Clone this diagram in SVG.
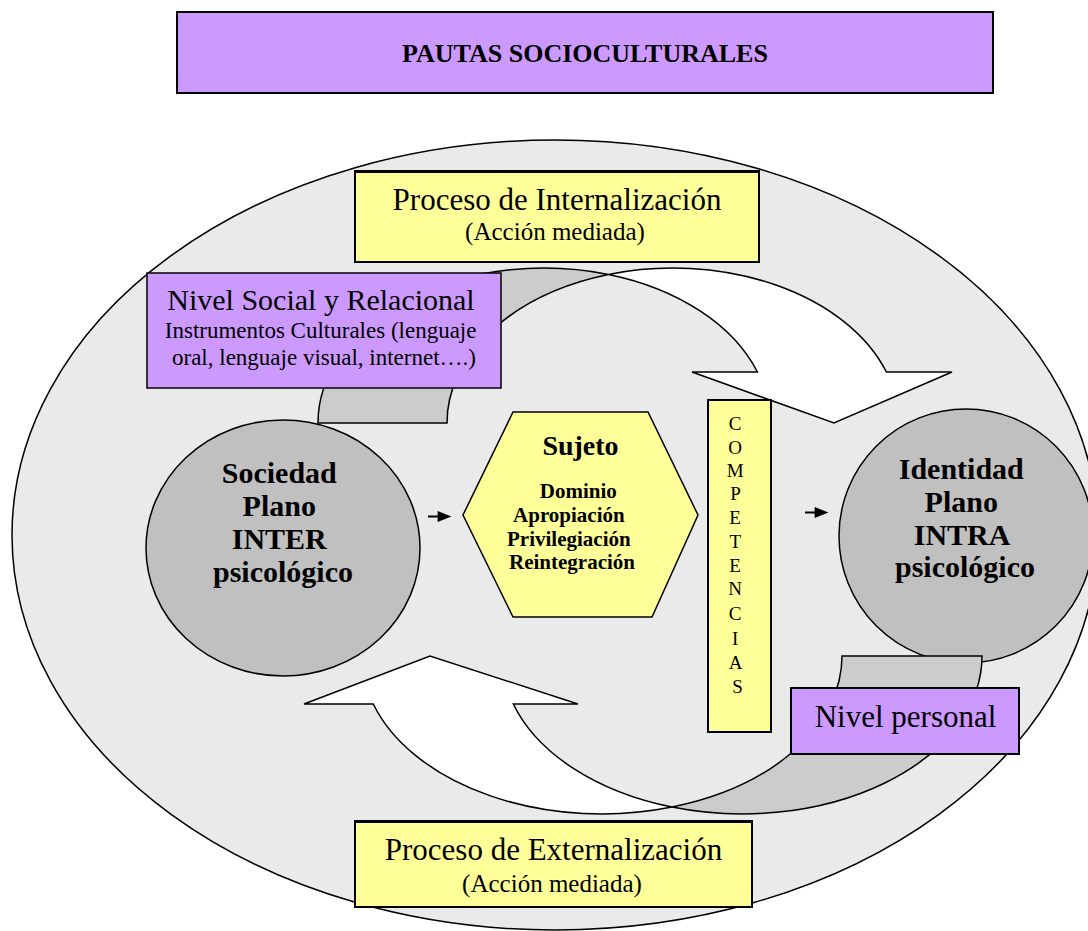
<svg xmlns="http://www.w3.org/2000/svg" width="1088" height="931" viewBox="0 0 1088 931">
  <style>
    .serif { font-family: "Liberation Serif", "Times New Roman", serif; fill: #000; }
    .bold { font-weight: bold; }
    .mid { text-anchor: middle; }
    .ln { stroke: #000; stroke-width: 1.5; stroke-linejoin: miter; }
    .box { stroke: #000; stroke-width: 2; }
    .purple { fill: #CC99FF; }
    .yellow { fill: #FFFF99; }
    .disc { fill: #C0C0C0; }
    .back { fill: #CCCCCC; }
    .front { fill: #FFFFFF; }
  </style>
  <defs>
    <marker id="head" viewBox="0 0 10 8" refX="1" refY="4" markerWidth="15" markerHeight="11" markerUnits="userSpaceOnUse" orient="auto">
      <path d="M0,0 L10,4 L0,8 Z" fill="#000"/>
    </marker>
  </defs>

  <rect width="1088" height="931" fill="#FFFFFF"/>

  <!-- title banner -->
  <g id="pautas">
    <rect class="box purple" x="177" y="12" width="816" height="81"/>
    <text class="serif bold mid" x="585" y="62" font-size="26">PAUTAS SOCIOCULTURALES</text>
  </g>

  <!-- outer field -->
  <g id="campo">
    <ellipse cx="555" cy="535" rx="543" ry="395" fill="#EAEAEA" class="ln"/>
  </g>

  <!-- social plane -->
  <g id="sociedad">
    <ellipse class="disc ln" cx="283" cy="548" rx="137" ry="128"/>
    <text class="serif bold mid" x="283" font-size="30">
      <tspan x="283" y="483">Sociedad</tspan>
      <tspan x="283" y="516">Plano</tspan>
      <tspan x="283" y="549">INTER</tspan>
      <tspan x="283" y="582">psicológico</tspan>
    </text>
  </g>

  <!-- personal plane -->
  <g id="identidad">
    <circle class="disc ln" cx="966" cy="536" r="127"/>
    <text class="serif bold mid" x="965" font-size="30">
      <tspan x="965" y="479">Identidad</tspan>
      <tspan x="965" y="512">Plano</tspan>
      <tspan x="965" y="545">INTRA</tspan>
      <tspan x="965" y="577">psicológico</tspan>
    </text>
  </g>

  <!-- curved flows -->
  <g id="conectores">
    <!-- internalization: band rising from the social plane, falling onto the personal plane -->
    <path class="back ln" d="M318,423 A226,155 0 0 1 608.5,274.45 A226,155 0 0 0 447,423 Z"/>
    <path class="front ln" d="M608.5,274.45 A226,155 0 0 1 886.4,372 L952,372 L834,423 L692,372 L757.4,372 A226,155 0 0 0 608.5,274.45 Z"/>
    <!-- externalization: band leaving the personal plane, returning up to the social plane -->
    <path class="back ln" d="M842,656 L982,656 A240,158 0 0 1 672,807.1 A240,158 0 0 0 842,656 Z"/>
    <path class="front ln" d="M672,807.1 A240,158 0 0 1 373.3,704 L304,704 L430,656 L578,704 L513.3,704 A240,158 0 0 0 672,807.1 Z"/>
    <!-- short pointers -->
    <line x1="428" y1="516.5" x2="439" y2="516.5" stroke="#000" stroke-width="2" marker-end="url(#head)"/>
    <line x1="805" y1="512.5" x2="816" y2="512.5" stroke="#000" stroke-width="2" marker-end="url(#head)"/>
  </g>

  <!-- subject -->
  <g id="sujeto">
    <polygon class="yellow ln" points="513,412 648,412 698,515 652,617 513,617 463,515"/>
    <text class="serif bold mid" x="580.5" y="455" font-size="28">Sujeto</text>
    <text class="serif bold mid" font-size="21">
      <tspan x="581" y="498">Dominio</tspan>
      <tspan x="571.5" y="522">Apropiación</tspan>
      <tspan x="571.5" y="546">Privilegiación</tspan>
      <tspan x="572" y="569">Reintegración</tspan>
    </text>
  </g>

  <!-- competences column -->
  <g id="competencias">
    <rect class="box yellow" x="708" y="400" width="63" height="332"/>
    <text class="serif mid" font-size="19">
      <tspan x="737.5" y="430">C</tspan>
      <tspan x="737.5" y="453.5">O</tspan>
      <tspan x="737.5" y="477">M</tspan>
      <tspan x="737.5" y="500">P</tspan>
      <tspan x="737.5" y="523.5">E</tspan>
      <tspan x="737.5" y="548">T</tspan>
      <tspan x="737.5" y="571.5">E</tspan>
      <tspan x="737.5" y="595">N</tspan>
      <tspan x="737.5" y="620">C</tspan>
      <tspan x="737.5" y="645">I</tspan>
      <tspan x="737.5" y="668.5">A</tspan>
      <tspan x="737.5" y="693">S</tspan>
    </text>
  </g>

  <!-- internalization label -->
  <g id="internalizacion">
    <rect class="box yellow" x="355" y="171" width="404" height="91"/>
    <line x1="355" y1="171.5" x2="759" y2="171.5" stroke="#000" stroke-width="3"/>
    <text class="serif mid" x="557" y="210" font-size="31">Proceso de Internalización</text>
    <text class="serif mid" x="555" y="240" font-size="25">(Acción mediada)</text>
  </g>

  <!-- social / relational level -->
  <g id="nivel-social">
    <rect class="purple ln" x="147" y="273" width="354" height="115"/>
    <text class="serif mid" x="321" y="310" font-size="30">Nivel Social y Relacional</text>
    <text class="serif mid" font-size="23">
      <tspan x="323.5" y="338">Instrumentos Culturales (lenguaje</tspan>
      <tspan x="324" y="365">oral, lenguaje visual, internet….)</tspan>
    </text>
  </g>

  <!-- personal level -->
  <g id="nivel-personal">
    <rect class="purple box" x="791" y="688" width="228" height="66"/>
    <text class="serif mid" x="905.5" y="727" font-size="31">Nivel personal</text>
  </g>

  <!-- externalization label -->
  <g id="externalizacion">
    <rect class="box yellow" x="355" y="821" width="397" height="86"/>
    <line x1="355" y1="821.5" x2="752" y2="821.5" stroke="#000" stroke-width="3"/>
    <text class="serif mid" x="553.5" y="860" font-size="31">Proceso de Externalización</text>
    <text class="serif mid" x="552" y="892" font-size="25">(Acción mediada)</text>
  </g>
</svg>
